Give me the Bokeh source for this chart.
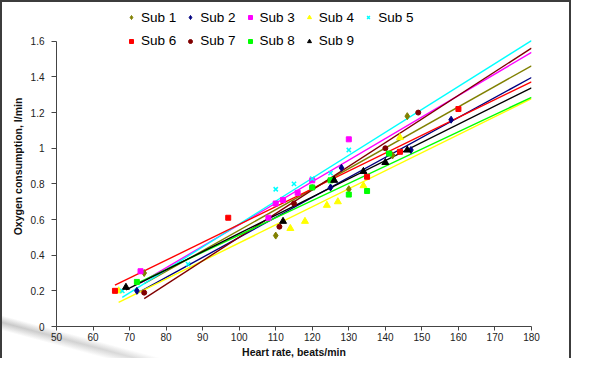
from bokeh.plotting import figure
from bokeh.models import Range1d, FixedTicker, CustomJSTickFormatter, Legend, LegendItem
from bokeh.embed import file_html
from bokeh.resources import INLINE

# ---- data ----
names = ["Sub 1", "Sub 2", "Sub 3", "Sub 4", "Sub 5", "Sub 6", "Sub 7", "Sub 8", "Sub 9"]

sub1_hr = [74, 110, 130, 142, 146]
sub1_vo2 = [0.30, 0.51, 0.77, 0.96, 1.18]
sub2_hr = [72, 125, 128, 147, 158]
sub2_vo2 = [0.20, 0.78, 0.89, 0.99, 1.16]
sub3_hr = [73, 108, 110, 112, 116, 120, 130]
sub3_vo2 = [0.31, 0.61, 0.69, 0.71, 0.75, 0.82, 1.05]
sub4_hr = [67, 114, 118, 124, 127, 134, 144]
sub4_vo2 = [0.20, 0.55, 0.59, 0.68, 0.70, 0.79, 1.06]
sub5_hr = [68, 86, 110, 115, 120, 125, 130]
sub5_vo2 = [0.20, 0.35, 0.77, 0.80, 0.83, 0.86, 0.99]
sub6_hr = [66, 97, 135, 144, 160]
sub6_vo2 = [0.20, 0.61, 0.84, 0.98, 1.22]
sub7_hr = [74, 111, 115, 120, 140, 149]
sub7_vo2 = [0.19, 0.56, 0.69, 0.78, 1.00, 1.20]
sub8_hr = [72, 120, 125, 130, 135, 141]
sub8_vo2 = [0.25, 0.78, 0.82, 0.74, 0.76, 0.97]
sub9_hr = [69, 112, 126, 134, 140, 146]
sub9_vo2 = [0.22, 0.59, 0.82, 0.87, 0.92, 0.99]

# linear trend lines (slope per beat/min, intercept)
trend_slope = [0.01153, 0.01121, 0.01208, 0.01012, 0.01286, 0.01001, 0.01326, 0.00966, 0.01021]
trend_intercept = [-0.613, -0.621, -0.637, -0.543, -0.711, -0.429, -0.825, -0.453, -0.499]
trend_end_hr = 180

x_ticks = [50, 60, 70, 80, 90, 100, 110, 120, 130, 140, 150, 160, 170, 180]
y_ticks = [0, 0.2, 0.4, 0.6, 0.8, 1.0, 1.2, 1.4, 1.6]
y_axis_max = 1.6

hr_all = [sub1_hr, sub2_hr, sub3_hr, sub4_hr, sub5_hr, sub6_hr, sub7_hr, sub8_hr, sub9_hr]
vo2_all = [sub1_vo2, sub2_vo2, sub3_vo2, sub4_vo2, sub5_vo2, sub6_vo2, sub7_vo2, sub8_vo2, sub9_vo2]

colors = ["#808000", "#000080", "#FF00FF", "#FFFF00", "#00FFFF",
          "#FF0000", "#800000", "#00FF00", "#000000"]
markers = ["diamond", "diamond", "square", "triangle", "x",
           "square", "circle", "square", "triangle"]
msize = {"diamond": 7, "square": 5, "triangle": 7, "x": 6, "circle": 5}

FONT = "Liberation Sans"

W, H = 571, 358
TOP, BOTTOM, LEFT, RIGHT = 4, 32, 54, 42
frame_h = H - TOP - BOTTOM
px_per_unit = 287 / y_axis_max
y_top = y_axis_max + (frame_h - 287) / px_per_unit

p = figure(width=W, height=H, output_backend="svg", toolbar_location=None,
           x_range=Range1d(50, 180), y_range=Range1d(0, y_top),
           min_border_left=LEFT, min_border_right=RIGHT, min_border_top=TOP,
           min_border_bottom=BOTTOM)
# slide frame and the faint grey swoosh of the slide background
p.styles = {
    "border-left": "2px solid #3c3c3c",
    "border-top": "2px solid #3c3c3c",
    "border-right": "2px solid #3c3c3c",
    "background": ("linear-gradient(to right, rgba(255,255,255,0) 0px, "
                   "rgba(255,255,255,0.25) 100px, rgba(255,255,255,1) 290px), "
                   "linear-gradient(195deg, rgba(0,0,0,0) 91.6%, #c8c8c8 93.0%, "
                   "rgba(0,0,0,0) 94.6%), #ffffff"),
}
p.grid.visible = False
p.outline_line_color = None
p.background_fill_alpha = 0
p.border_fill_alpha = 0

renderers = []
for i in range(9):
    x0 = min(hr_all[i])
    xs = [x0, trend_end_hr]
    ys = [trend_intercept[i] + trend_slope[i] * x for x in xs]
    p.line(xs, ys, line_color=colors[i], line_width=1.4)
for i in range(9):
    m = markers[i]
    r = p.scatter(hr_all[i], vo2_all[i], marker=m, size=msize[m],
                  fill_color=colors[i], line_color=colors[i],
                  line_width=1.5 if m == "x" else 1)
    renderers.append(r)

# axes
p.xaxis.ticker = FixedTicker(ticks=x_ticks)
p.yaxis.ticker = FixedTicker(ticks=y_ticks)
p.yaxis.bounds = (0, y_axis_max)
p.yaxis.formatter = CustomJSTickFormatter(code="return String(Math.round(tick*10)/10)")
for ax in (p.xaxis[0], p.yaxis[0]):
    ax.axis_line_color = "#444444"
    ax.major_tick_line_color = "#444444"
    ax.minor_tick_line_color = None
    ax.major_tick_in = 0
    ax.major_tick_out = 4
    ax.major_label_text_font = FONT
    ax.major_label_text_font_size = "10px"
    ax.major_label_text_color = "#222222"
    ax.axis_label_text_font = FONT
    ax.axis_label_text_font_style = "bold"
    ax.axis_label_text_font_size = "10.5px"
    ax.axis_label_text_color = "#111111"
p.xaxis.major_label_standoff = 2
p.xaxis.axis_label_standoff = 2
p.yaxis.major_label_standoff = 7
p.yaxis.axis_label_standoff = 4
p.yaxis.major_tick_out = 5
p.xaxis.axis_label = "Heart rate, beats/min"
p.yaxis.axis_label = "Oxygen consumption, l/min"

def make_legend(idx, loc):
    return Legend(items=[LegendItem(label=names[i], renderers=[renderers[i]]) for i in idx],
                  orientation="horizontal", location=loc,
                  glyph_width=10, glyph_height=14, label_height=14, label_width=20,
                  label_standoff=5, spacing=9, padding=0, margin=0,
                  background_fill_alpha=0, border_line_color=None,
                  label_text_font=FONT, label_text_font_size="13.5px",
                  label_text_color="#000000")

# legend location = bottom-left corner, measured from the plot's bottom-left
row1_center = 17.7 - TOP
row2_center = 41.0 - TOP
p.add_layout(make_legend(range(0, 5), (70, frame_h - row1_center - 7)))
p.add_layout(make_legend(range(5, 9), (70, frame_h - row2_center - 7)))

open("out.html", "w").write(file_html(p, INLINE))
